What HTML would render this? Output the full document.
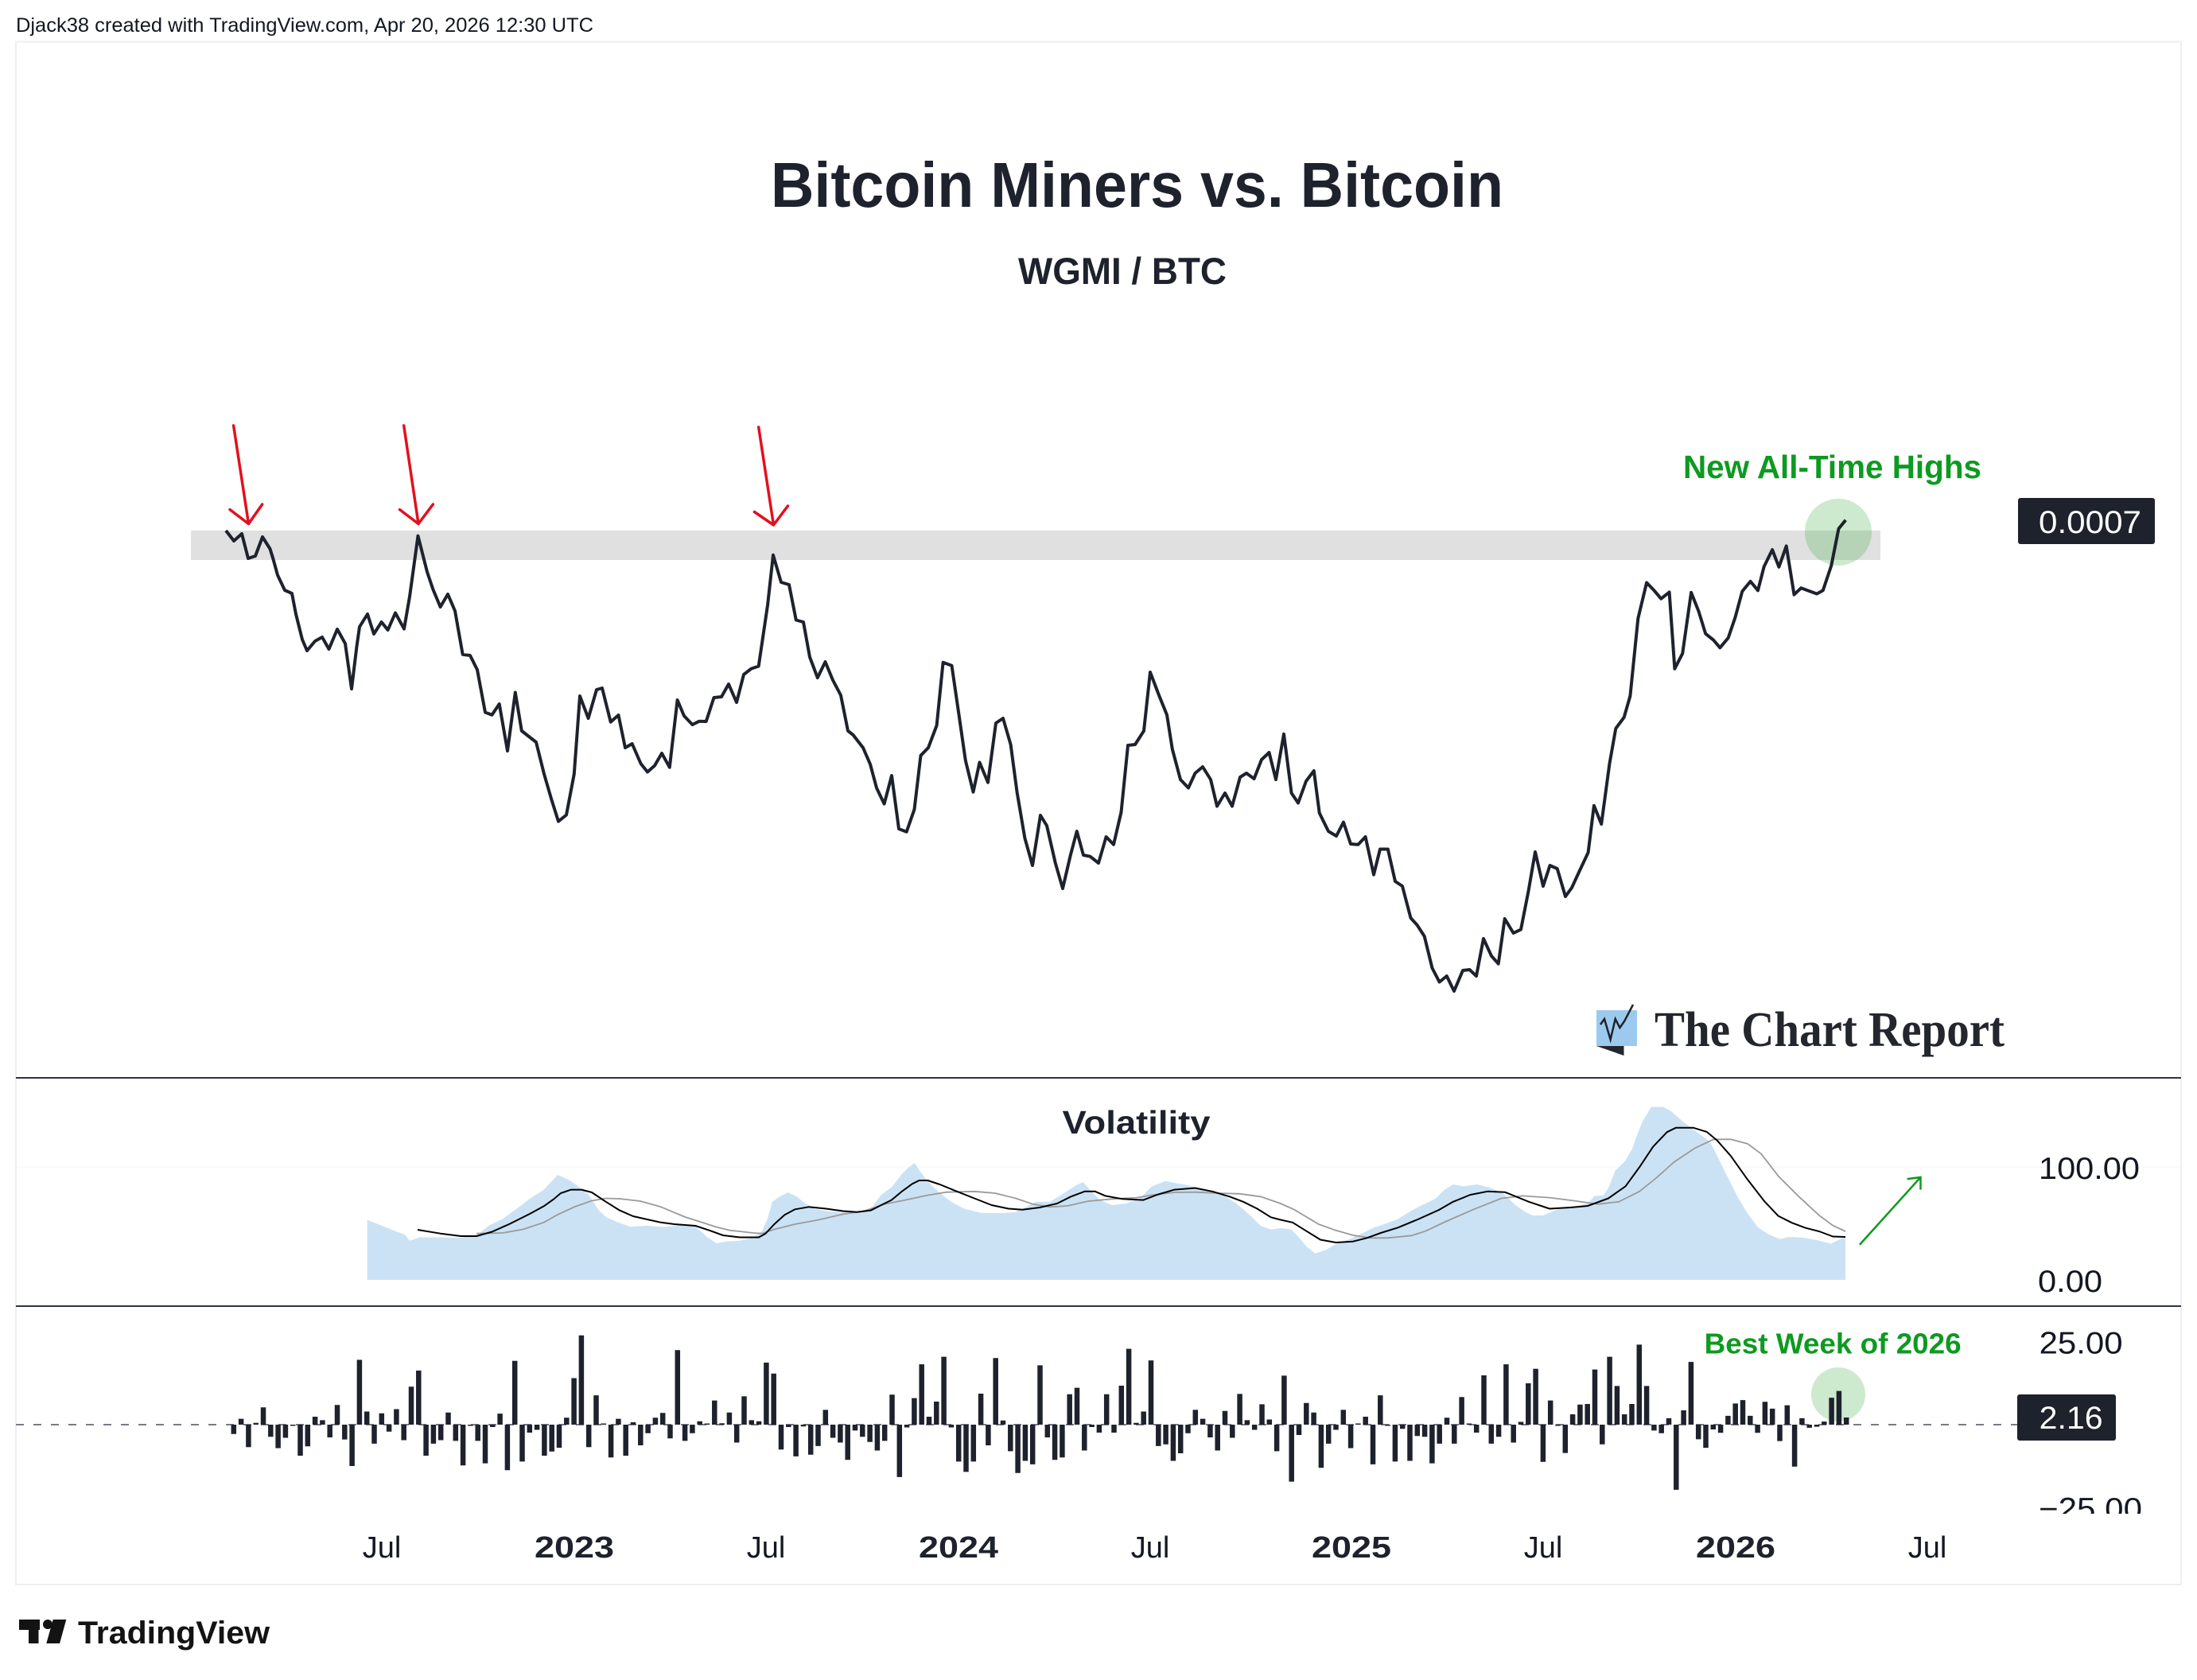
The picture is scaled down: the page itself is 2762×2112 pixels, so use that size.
<!DOCTYPE html>
<html><head><meta charset="utf-8"><style>
html,body{margin:0;padding:0;background:#fff;}
svg{display:block;}
text{font-family:"Liberation Sans",Arial,sans-serif;}
</style></head><body>
<svg xmlns="http://www.w3.org/2000/svg" width="2762" height="2112" viewBox="0 0 2762 2112">
<rect x="0" y="0" width="2762" height="2112" fill="#fff"/>
<text x="20" y="40" font-size="25" fill="#131722" textLength="726" lengthAdjust="spacingAndGlyphs">Djack38 created with TradingView.com, Apr 20, 2026 12:30 UTC</text>
<rect x="20" y="52.5" width="2722" height="1939.5" fill="none" stroke="#efefef" stroke-width="2"/>

<!-- title -->
<text x="969" y="260" font-size="80" font-weight="bold" fill="#1e222d" textLength="921" lengthAdjust="spacingAndGlyphs">Bitcoin Miners vs. Bitcoin</text>
<text x="1280" y="357" font-size="47" font-weight="bold" fill="#1e222d" textLength="262" lengthAdjust="spacingAndGlyphs">WGMI / BTC</text>

<!-- band -->
<rect x="240" y="667" width="2124" height="37" fill="#e0e0e0"/>
<circle cx="2311" cy="669" r="42" fill="#4caf50" fill-opacity="0.28"/>

<!-- red arrows -->
<g stroke="#e3101e" stroke-width="3.5" fill="none" stroke-linecap="round" stroke-linejoin="round">
<path d="M293.6 535 L312.5 658.5 M289 640.6 L312.5 658.5 L329.7 634"/>
<path d="M507.7 535 L526 658.5 M502.5 640.6 L526 658.5 L544.4 634"/>
<path d="M953.7 537 L972.5 660 M948.4 643.5 L972.5 660 L990.5 636"/>
</g>

<!-- main line -->
<polyline fill="none" stroke="#1e222d" stroke-width="4" stroke-linejoin="round" points="284,667 294,680 304,671 312,702 321,699 330,675 339.5,690 343.5,703 349,723 358,742 367,746 372,772 380,804 386,818 396,806 405,801 413.5,816 424,791 434,809 442,866 448.5,812.5 452,788 462,772 470,797 479.6,782 487.6,792 497,770.5 508,790.6 515,750 525.5,673.7 537,719 544.4,741 553.6,763 563,747 572,768 581.7,822.8 591,824 600,842 610,895.5 618.5,898.7 627.7,885 638,944 647.8,870.5 655.8,918.75 665,926 674,933 684,973 693,1004 702,1032.6 712,1024.5 721.8,973 729,875 739.6,903 750,867 757,865 767.7,907.6 777.5,899 786,940 794.7,935 805.6,960 814,970.5 823,962.5 832,947 841.8,964.7 851.6,880 860,900 870.5,911 879,906.7 887.7,907 897.5,877 907,876 916,860 926,883 935,848 944.5,840.6 953.7,837.5 965,761 972,697.8 982,732 992,735 1000.8,779.5 1010,782 1018,826 1027.8,852 1037.5,832 1047,855 1057,874 1066,918.75 1072.6,924 1085,940 1094,960.7 1102,990.5 1111.6,1010.6 1121,975 1130,1042 1139.7,1045.7 1149.5,1017.5 1157.5,949.8 1167,940 1177.6,912 1185.6,832.7 1196.5,836.7 1204,888 1213.8,956 1223.5,995.7 1231.5,958.4 1242,983.7 1252,909 1261,903 1270.6,936 1278.6,996 1288.4,1053.7 1298,1088 1308,1025 1316,1038 1326.8,1085 1336,1117 1345.8,1075 1353.8,1045 1362,1075 1370.5,1076.7 1381,1085 1390.6,1052 1400,1061.7 1409.5,1021 1418,937 1427,936 1438,918.8 1446,845 1456.6,873 1467,898.7 1473.8,941.7 1484,980 1494,990.5 1502.5,972 1512,964 1522,980 1530,1013.5 1540,997 1549,1013.5 1559,977 1567,972 1576.6,979 1586,955 1595.5,946 1604,980 1614,922.8 1623.6,997 1632,1009.5 1642,982 1651.8,969 1658.7,1022 1670,1045 1680,1051 1689,1033.6 1698,1061 1707.4,1061.7 1716.6,1052 1727,1099.6 1735,1067.5 1744.8,1067.5 1754,1108 1763,1114 1773.5,1154 1781.5,1162.8 1790.7,1177 1800.5,1217 1809.6,1234.5 1818.8,1227 1828,1246 1839,1220 1847.5,1219 1856,1227 1865,1180 1875,1201.8 1883.7,1211.6 1891.7,1155 1902.6,1173 1912,1168.5 1921.6,1119.7 1930,1071 1940,1114 1948.5,1088 1957.7,1092 1968,1127 1976,1116 1985.2,1096 1996.6,1071.7 2003.9,1012.7 2013.2,1036 2023.5,959.8 2031.3,915.8 2041.7,901.8 2049.4,874.9 2059.3,777.5 2070.1,732.5 2079.5,742.3 2088.3,752.7 2098.6,744.4 2105.4,840.7 2115.2,821.6 2126.1,744.9 2135.4,768.2 2144.2,796.7 2154,804.5 2162.3,814.3 2172.7,801.9 2181.5,776 2190.3,743.4 2200.6,730.9 2210,742.3 2217.7,712.3 2228.1,691.1 2236.4,712.8 2245.7,686.4 2255.5,747.5 2264.3,739.2 2284,746.5 2291.8,742.3 2302.2,711.3 2311.5,664.6 2320.3,653.8"/>

<text x="2116" y="601" font-size="41" font-weight="bold" fill="#0d9a20" textLength="375" lengthAdjust="spacingAndGlyphs">New All-Time Highs</text>
<rect x="2537" y="626" width="172" height="58" rx="3" fill="#1e222d"/>
<text x="2563" y="670" font-size="40" fill="#fff" textLength="129" lengthAdjust="spacingAndGlyphs">0.0007</text>

<!-- The Chart Report logo -->
<rect x="2007" y="1270" width="51" height="45" fill="#9ccaee"/>
<polygon points="2007,1315 2041.5,1315 2041.5,1327" fill="#24262e"/>
<polyline fill="none" stroke="#1e222d" stroke-width="2.5" stroke-linejoin="miter" points="2012,1288 2017,1281 2024.6,1307 2030.7,1281 2036.4,1292 2042,1284 2053,1263"/>
<text x="2080" y="1315" font-size="62" font-weight="bold" fill="#24262e" textLength="440" lengthAdjust="spacingAndGlyphs" style="font-family:'Liberation Serif',serif">The Chart Report</text>

<!-- separators -->
<rect x="20" y="1354" width="2722" height="2" fill="#2f3241"/>
<rect x="20" y="1641" width="2722" height="2" fill="#2f3241"/>

<!-- volatility pane -->
<line x1="20" y1="1467" x2="2742" y2="1467" stroke="#f6f6f6" stroke-width="1"/>
<text x="1335.5" y="1425" font-size="41" font-weight="bold" fill="#1e222d" textLength="186" lengthAdjust="spacingAndGlyphs">Volatility</text>
<polygon fill="#cbe2f5" points="461.6,1609 461.6,1533.8 475.5,1539 497,1547.7 509,1552 515,1559.8 527.5,1555.5 553.6,1555.5 579.6,1556 601,1552 614,1541 631.6,1532.5 649,1520 666,1507 683.6,1495.6 701,1477 714,1482.6 725,1490 740,1502 753,1521.6 761.7,1530 777,1536.8 792,1542 813.7,1541 835,1542.5 857,1540 874.4,1542 887.5,1554 900.5,1563 913.5,1560.7 930,1559.8 947,1556 958,1547.7 964.7,1532.5 971,1510.8 980,1504.3 990.7,1499 1001.5,1504.3 1012.4,1513 1025.4,1520 1042.7,1523 1060,1523.8 1077.4,1523 1094.8,1519.5 1107.8,1502 1120.8,1492.6 1133.8,1476 1142.5,1467.4 1150,1462 1155.5,1471 1166,1484.8 1179,1497.8 1194.5,1510 1212,1519.5 1233.5,1524.7 1259.6,1525 1277,1523.8 1294,1515 1303,1510.8 1320,1510.8 1337.6,1500 1350.6,1491.3 1361.5,1486 1372,1497.8 1383,1508.6 1398,1515 1415.7,1513 1433,1506.5 1448.2,1491.3 1465.6,1484.8 1476.4,1487 1493.7,1490 1515.4,1495.6 1537,1502 1554.5,1513 1571.8,1528 1584.8,1541 1597.8,1545.5 1610,1544 1623,1545.5 1631.7,1554 1642.5,1567 1653.4,1575.8 1666.4,1571.5 1679.4,1564 1696.7,1557.6 1714,1549.8 1727,1543.3 1740,1539 1757.4,1532.5 1774.8,1521.6 1792,1513 1805,1506.5 1816,1495.6 1826.8,1489 1839.8,1491.3 1857,1489 1874.5,1493.5 1892,1502 1905,1515 1918,1523.8 1926.6,1528 1939.6,1528 1957,1520.8 1978.6,1517.3 1996,1513 2004.6,1503.4 2015.5,1503 2022,1493.5 2030.6,1471.8 2043.6,1458.8 2052.3,1443.6 2056.6,1430.6 2065.3,1409 2076,1391.6 2091.4,1391.6 2100.7,1397 2115.7,1410 2132.9,1422.9 2150,1435.7 2158.6,1452.9 2171.4,1478.6 2184.3,1504.3 2197,1525.7 2210,1542.9 2222.9,1551.5 2237.9,1557.9 2248.6,1555 2265.7,1555.7 2282.9,1558.7 2302,1563.5 2312.9,1557.9 2320,1555 2320,1609"/>
<polyline fill="none" stroke="#9a9a9a" stroke-width="1.8" stroke-linejoin="round" points="599,1550.7 631.6,1550 657.6,1545.5 683.6,1536.8 701,1527 722.7,1517 744,1509.5 761.7,1506.5 779,1507 805,1510 831,1517.3 861.4,1530 878.8,1535.5 900.5,1542.5 917.8,1546.8 930,1548 947,1550 958,1550.7 973.4,1545.5 999.4,1539 1029.7,1533.4 1060,1526.4 1086,1522.5 1112,1513.8 1138,1508.6 1164,1503 1190,1498.7 1225,1497.8 1251,1500 1277,1506.5 1298.6,1513.8 1320,1517.3 1342,1516 1368,1510 1398,1507.3 1428.7,1505.6 1450.4,1502 1476.4,1499 1502.4,1498.7 1532.8,1500 1558.8,1500.8 1584.8,1504.3 1610,1513 1627.3,1520.8 1657.7,1539 1679.4,1546.8 1701,1552.9 1722.7,1556.3 1744.4,1556.3 1774.8,1553.3 1792,1547.7 1818,1535.5 1852.8,1520.3 1887.5,1506.5 1913.6,1503.4 1948,1505.6 1978.6,1509.5 2009,1513.8 2035,1510.8 2061,1497.8 2082.7,1480.4 2104.4,1461 2130.4,1443.6 2154.3,1432.3 2175.7,1432.3 2197,1437.9 2214.3,1450.7 2235.7,1478.6 2261.5,1504.3 2287,1527.9 2304.3,1540.7 2320,1548"/>
<polyline fill="none" stroke="#000" stroke-width="2" stroke-linejoin="round" points="525,1546 553.6,1550.7 579.6,1554 599,1554 618.6,1548.5 640,1539 666,1526 683.6,1516.4 696.7,1507 705,1500 718,1495.6 731,1495.6 744,1499 761.7,1510.8 779,1521.6 796,1529 813.7,1533 831,1536.8 848,1539 874.4,1541 892,1546.8 909,1553 930,1555.5 954,1555.5 962.5,1550.7 973.4,1539 986.4,1527.3 999.4,1520.3 1016.7,1517.3 1038.4,1519.5 1060,1522.5 1077.4,1523.8 1094.8,1521.6 1107.8,1515 1120.8,1508.6 1133.8,1497.8 1146.8,1488.3 1155.5,1484 1166.3,1484 1181.5,1489 1203,1497.8 1225,1506.5 1246.6,1515 1268,1519.5 1285.6,1520.8 1307,1518 1329,1513 1346.3,1504.3 1363.6,1497.8 1376.7,1497.8 1389.7,1503.4 1411.4,1507.3 1437.4,1508.6 1454.7,1502 1476.4,1495.6 1502.4,1493.5 1524,1497.8 1545.8,1504.3 1563,1510.8 1580.5,1519.5 1597.8,1530.3 1610,1533.5 1625,1536.8 1642.5,1547.7 1660,1558.5 1679.4,1562 1701,1560.7 1718.4,1556.3 1735.8,1550 1757.4,1543.3 1783.5,1532.5 1809.5,1520.8 1826.8,1510.8 1848.5,1502 1870,1497.8 1892,1498.7 1922,1510.8 1948,1519.5 1974,1518 1996,1516 2022,1506.5 2043.6,1491.3 2061,1467.4 2078.3,1441.4 2095.7,1423.2 2107,1417.7 2128.6,1417.7 2145.7,1422.9 2158.6,1433.6 2175.7,1452.9 2197,1482.9 2218.6,1510.7 2235.7,1528.7 2252.9,1537.3 2270,1543.7 2287,1548 2304.3,1554.5 2320,1555"/>
<g stroke="#0d9a20" stroke-width="2.5" fill="none" stroke-linecap="round">
<path d="M2338.6 1564 L2414.5 1480 M2398.6 1482 L2414.5 1480 L2414.5 1494.5"/>
</g>
<text x="2563" y="1482" font-size="39" fill="#131722" textLength="127" lengthAdjust="spacingAndGlyphs">100.00</text>
<text x="2562" y="1624" font-size="39" fill="#131722" textLength="81" lengthAdjust="spacingAndGlyphs">0.00</text>

<!-- histogram pane -->
<line x1="20" y1="1791" x2="2536" y2="1791" stroke="#787b86" stroke-width="2" stroke-dasharray="10 12"/>
<text x="2142.7" y="1701.5" font-size="36" font-weight="bold" fill="#0d9a20" textLength="323" lengthAdjust="spacingAndGlyphs">Best Week of 2026</text>
<circle cx="2311" cy="1753" r="34" fill="#4caf50" fill-opacity="0.28"/>
<path fill="none" stroke="#1e222d" stroke-width="6.5" d="M293.8 1791V1802.7M303.1 1791V1783.6M312.4 1791V1819.2M321.7 1791V1788.8M331 1791V1769.3M340.3 1791V1806.2M349.6 1791V1820.5M358.9 1791V1807.5M368.2 1791V1792.5M377.5 1791V1830M386.8 1791V1818.3M396.1 1791V1781M405.4 1791V1785.4M414.7 1791V1807M424 1791V1766.3M433.3 1791V1809.6M442.6 1791V1843M451.9 1791V1709.5M461.2 1791V1774.5M470.5 1791V1814.9M479.8 1791V1776.7M489.1 1791V1799.7M498.4 1791V1771.5M507.7 1791V1810.5M517 1791V1743.3M526.3 1791V1723M535.6 1791V1830M544.9 1791V1814.9M554.2 1791V1810.5M563.5 1791V1775.8M572.8 1791V1811.4M582.1 1791V1842.2M591.4 1791V1792.5M600.7 1791V1811.4M610 1791V1839.6M619.3 1791V1794M628.6 1791V1777.1M637.9 1791V1848.2M647.2 1791V1710.8M656.5 1791V1837.4M665.8 1791V1801M675.1 1791V1797.5M684.4 1791V1830M693.7 1791V1824.8M703 1791V1820M712.3 1791V1782.3M721.6 1791V1732.5M730.9 1791V1678.7M740.2 1791V1819.2M749.5 1791V1754.1M758.8 1791V1789.5M768.1 1791V1832.2M777.4 1791V1783.6M786.7 1791V1830M796 1791V1788M805.3 1791V1817M814.6 1791V1801.8M823.9 1791V1782.3M833.2 1791V1776.3M842.5 1791V1808.3M851.8 1791V1697.3M861.1 1791V1811.4M870.4 1791V1801.8M879.7 1791V1786.7M889 1791V1789.5M898.3 1791V1760.6M907.6 1791V1789.3M916.9 1791V1775.8M926.2 1791V1813.5M935.5 1791V1755.4M944.8 1791V1785.4M954.1 1791V1786.7M963.4 1791V1713M972.7 1791V1726.8M982 1791V1822.2M991.3 1791V1794M1000.6 1791V1830.9M1009.9 1791V1793.2M1019.2 1791V1828.7M1028.5 1791V1817.9M1037.8 1791V1772.4M1047.1 1791V1807.5M1056.4 1791V1813.5M1065.7 1791V1835.2M1075 1791V1798.4M1084.3 1791V1806.2M1093.6 1791V1812.7M1102.9 1791V1823.5M1112.2 1791V1811.4M1121.5 1791V1753.3M1130.8 1791V1856.9M1140.1 1791V1794.5M1149.4 1791V1757.6M1158.7 1791V1715.1M1168 1791V1781M1177.3 1791V1762M1186.6 1791V1705.6M1195.9 1791V1794.5M1205.2 1791V1837.4M1214.5 1791V1850.4M1223.8 1791V1837.4M1233.1 1791V1752M1242.4 1791V1817M1251.7 1791V1707.3M1261 1791V1785.8M1270.3 1791V1824.4M1279.6 1791V1851.7M1288.9 1791V1836.5M1298.2 1791V1840.9M1307.5 1791V1716.4M1316.8 1791V1807M1326.1 1791V1835.2M1335.4 1791V1832.2M1344.7 1791V1752.8M1354 1791V1744.6M1363.3 1791V1823.5M1372.6 1791V1794M1381.9 1791V1801M1391.2 1791V1752.8M1400.5 1791V1801M1409.8 1791V1742M1419.1 1791V1695.6M1428.4 1791V1788.8M1437.7 1791V1774.5M1447 1791V1710.3M1456.3 1791V1817.9M1465.6 1791V1815.7M1474.9 1791V1836.5M1484.2 1791V1827M1493.5 1791V1801.8M1502.8 1791V1772.4M1512.1 1791V1783.6M1521.4 1791V1807M1530.7 1791V1823.5M1540 1791V1773.7M1549.3 1791V1807.5M1558.6 1791V1752.4M1567.9 1791V1785.4M1577.2 1791V1797.5M1586.5 1791V1765.4M1595.8 1791V1784.5M1605.1 1791V1824.4M1614.4 1791V1729.4M1623.7 1791V1862.6M1633 1791V1804M1642.3 1791V1763.7M1651.6 1791V1775.8M1660.9 1791V1845.2M1670.2 1791V1814.9M1679.5 1791V1797.5M1688.8 1791V1772.4M1698.1 1791V1820.5M1707.4 1791V1789.5M1716.7 1791V1781M1726 1791V1840.9M1735.3 1791V1754.1M1744.6 1791V1792.5M1753.9 1791V1837.4M1763.2 1791V1796.2M1772.5 1791V1836.5M1781.8 1791V1805.3M1791.1 1791V1806.2M1800.4 1791V1839.6M1809.7 1791V1814.9M1819 1791V1782.3M1828.3 1791V1814.9M1837.6 1791V1756.3M1846.9 1791V1789.5M1856.2 1791V1801M1865.5 1791V1729M1874.8 1791V1814.9M1884.1 1791V1806.2M1893.4 1791V1715.1M1902.7 1791V1813.5M1912 1791V1787.5M1921.3 1791V1739M1930.6 1791V1720.7M1939.9 1791V1837.8M1949.2 1791V1760.6M1958.5 1791V1792.5M1967.8 1791V1826.6M1977.1 1791V1778M1986.4 1791V1765.8M1995.7 1791V1765M2005 1791V1721.6M2014.3 1791V1815.7M2023.6 1791V1705.6M2032.9 1791V1742.4M2042.2 1791V1778M2051.5 1791V1765M2060.8 1791V1690.4M2070.1 1791V1742.4M2079.4 1791V1798.4M2088.7 1791V1801.8M2098 1791V1782.9M2107.3 1791V1872.9M2116.6 1791V1773M2125.9 1791V1712.1M2135.2 1791V1809.4M2144.5 1791V1820.1M2153.8 1791V1797M2163.1 1791V1801.3M2172.4 1791V1779.9M2181.7 1791V1764.4M2191 1791V1760.1M2200.3 1791V1779.9M2209.6 1791V1801.3M2218.9 1791V1762.3M2228.2 1791V1770.9M2237.5 1791V1811.6M2246.8 1791V1766.6M2256.1 1791V1843.7M2265.4 1791V1782.9M2274.7 1791V1794.9M2284 1791V1793.6M2293.3 1791V1787.1M2302.6 1791V1757.1M2311.9 1791V1748.6M2321.2 1791V1782"/>
<text x="2563.6" y="1701.5" font-size="39" fill="#131722" textLength="105" lengthAdjust="spacingAndGlyphs">25.00</text>
<rect x="2536" y="1753" width="124" height="58" rx="3" fill="#1e222d"/>
<text x="2563.6" y="1796" font-size="40" fill="#fff" textLength="80" lengthAdjust="spacingAndGlyphs">2.16</text>
<svg x="2500" y="1860" width="262" height="43" viewBox="2500 1860 262 43" overflow="hidden">
<text x="2563" y="1910" font-size="39" fill="#131722" textLength="130" lengthAdjust="spacingAndGlyphs">−25.00</text>
</svg>

<!-- time axis -->
<g font-size="38" fill="#131722" text-anchor="middle">
<text x="480" y="1958">Jul</text>
<text x="963" y="1958">Jul</text>
<text x="1446" y="1958">Jul</text>
<text x="1940" y="1958">Jul</text>
<text x="2423" y="1958">Jul</text>
</g>
<g font-size="38" font-weight="bold" fill="#1e222d">
<text x="672" y="1958" textLength="100" lengthAdjust="spacingAndGlyphs">2023</text>
<text x="1155" y="1958" textLength="100" lengthAdjust="spacingAndGlyphs">2024</text>
<text x="1649" y="1958" textLength="100" lengthAdjust="spacingAndGlyphs">2025</text>
<text x="2132" y="1958" textLength="100" lengthAdjust="spacingAndGlyphs">2026</text>
</g>

<!-- TradingView logo -->
<g fill="#131313">
<rect x="24" y="2036" width="26" height="13"/>
<rect x="36" y="2036" width="12.5" height="30"/>
<circle cx="60" cy="2042" r="6"/>
<polygon points="66.7,2036 83.3,2036 75,2066 58.3,2066"/>
</g>
<text x="98" y="2066" font-size="40" font-weight="bold" fill="#131313" textLength="241" lengthAdjust="spacingAndGlyphs">TradingView</text>
</svg>
</body></html>
